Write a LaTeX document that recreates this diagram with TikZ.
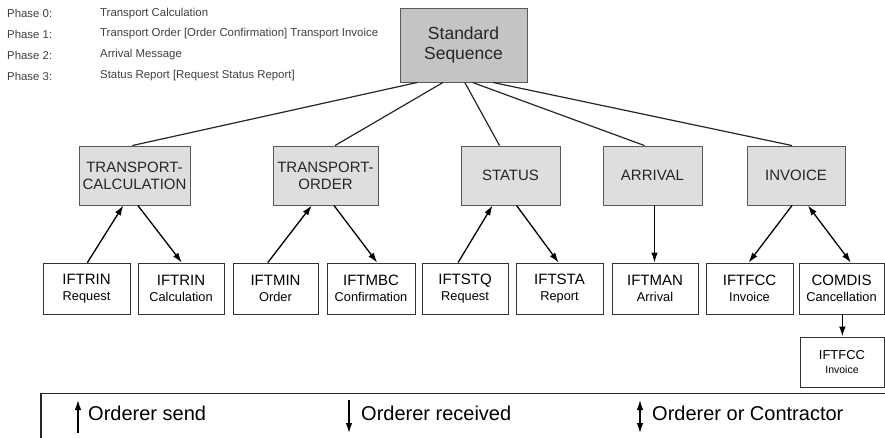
\documentclass[tikz,border=0pt]{standalone}
\usepackage{fontspec}
\setmainfont{Liberation Sans}
\usetikzlibrary{arrows.meta,calc}

\begin{document}
\begin{tikzpicture}[x=1pt,y=-1pt,
  tip/.tip={Latex[length=10pt,width=6.5pt]},
  topbox/.style={draw=black!65, line width=0.9pt, fill=black!23, align=center, inner sep=0pt,
    text=black!85, font=\fontsize{17.5}{20}\selectfont},
  groupbox/.style={draw=black!65, line width=0.9pt, fill=black!13, align=center, inner sep=0pt,
    minimum height=59pt, text=black!85, font=\fontsize{15}{17}\selectfont},
  msgbox/.style={draw=black!80, line width=0.8pt, fill=white, align=center, inner sep=0pt,
    minimum height=51pt, font=\fontsize{12.8}{16}\selectfont},
  smallmsg/.style={msgbox, minimum height=50pt, font=\fontsize{10.5}{14}\selectfont},
  tree/.style={line width=1.2pt, draw=black!85},
  flow/.style={line width=1.3pt, draw=black, -tip},
  both/.style={line width=1.3pt, draw=black, tip-tip},
  phase/.style={anchor=west, inner sep=0pt, text=black!75, font=\fontsize{11.4}{13}\selectfont},
  legend/.style={anchor=west, inner sep=0pt, font=\fontsize{20}{22}\selectfont}
]
\useasboundingbox (0,0) rectangle (885,438);

% phase list
\node[phase] (p0) at (7,13.3) {Phase 0:};
\node[phase] (p1) at (7,34) {Phase 1:};
\node[phase] (p2) at (7,55) {Phase 2:};
\node[phase] (p3) at (7,76) {Phase 3:};
\node[phase] (t0) at (100,13.3) {Transport Calculation};
\node[phase] (t1) at (100,34) {Transport Order [Order Confirmation] Transport Invoice};
\node[phase] (t2) at (100,55) {Arrival Message};
\node[phase] (t3) at (100,76) {Status Report [Request Status Report]};

% root
\node[topbox, minimum width=127pt, minimum height=74pt] (ss) at (463.5,45) {Standard\\Sequence};

% groups
\node[groupbox, minimum width=111pt] (tc) at (134.5,175.5) {TRANSPORT-\\CALCULATION};
\node[groupbox, minimum width=105pt] (to) at (325.5,175.5) {TRANSPORT-\\ORDER};
\node[groupbox, minimum width=99pt]  (st) at (510.5,175.5) {STATUS};
\node[groupbox, minimum width=99pt]  (ar) at (652.5,175.5) {ARRIVAL};
\node[groupbox, minimum width=98pt]  (in) at (796,175.5) {INVOICE};

% messages
\newcommand\msgname[1]{{\fontsize{15}{16}\selectfont #1}}
\newcommand\smallname[1]{{\fontsize{13}{14}\selectfont #1}}
\node[msgbox, minimum width=87pt] (r1) at (86.5,288.5) {\msgname{IFTRIN}\\Request};
\node[msgbox, minimum width=86pt] (r2) at (181,288.5) {\msgname{IFTRIN}\\Calculation};
\node[msgbox, minimum width=85pt] (m1) at (275.5,288.5) {\msgname{IFTMIN}\\Order};
\node[msgbox, minimum width=88pt] (m2) at (371,288.5) {\msgname{IFTMBC}\\Confirmation};
\node[msgbox, minimum width=86pt] (s1) at (465,288.5) {\msgname{IFTSTQ}\\Request};
\node[msgbox, minimum width=87pt] (s2) at (559.5,288.5) {\msgname{IFTSTA}\\Report};
\node[msgbox, minimum width=86pt] (am) at (655,288.5) {\msgname{IFTMAN}\\Arrival};
\node[msgbox, minimum width=87pt] (f1) at (749.5,288.5) {\msgname{IFTFCC}\\Invoice};
\node[msgbox, minimum width=85pt] (cd) at (841.5,288.5) {\msgname{COMDIS}\\Cancellation};
\node[smallmsg, minimum width=84pt] (f2) at (842,362) {\smallname{IFTFCC}\\Invoice};

% attachment points along box sides
\coordinate (ss1) at ($(ss.south west)!0.14!(ss.south east)$);
\coordinate (ss2) at ($(ss.south west)!0.34!(ss.south east)$);
\coordinate (ss3) at ($(ss.south west)!0.51!(ss.south east)$);
\coordinate (ss4) at ($(ss.south west)!0.57!(ss.south east)$);
\coordinate (ss5) at ($(ss.south west)!0.73!(ss.south east)$);
\coordinate (tcN) at ($(tc.north west)!0.48!(tc.north east)$);
\coordinate (toN) at ($(to.north west)!0.59!(to.north east)$);
\coordinate (stN) at ($(st.north west)!0.39!(st.north east)$);
\coordinate (arN) at ($(ar.north west)!0.42!(ar.north east)$);
\coordinate (inN) at ($(in.north west)!0.46!(in.north east)$);

\coordinate (tcA) at ($(tc.south west)!0.40!(tc.south east)$);
\coordinate (tcB) at ($(tc.south west)!0.53!(tc.south east)$);
\coordinate (toA) at ($(to.south west)!0.37!(to.south east)$);
\coordinate (toB) at ($(to.south west)!0.58!(to.south east)$);
\coordinate (stA) at ($(st.south west)!0.32!(st.south east)$);
\coordinate (stB) at ($(st.south west)!0.56!(st.south east)$);
\coordinate (arS) at ($(ar.south west)!0.52!(ar.south east)$);
\coordinate (inA) at ($(in.south west)!0.46!(in.south east)$);
\coordinate (inB) at ($(in.south west)!0.62!(in.south east)$);

\coordinate (r1N) at ($(r1.north west)!0.51!(r1.north east)$);
\coordinate (r2N) at ($(r2.north west)!0.51!(r2.north east)$);
\coordinate (m1N) at ($(m1.north west)!0.41!(m1.north east)$);
\coordinate (m2N) at ($(m2.north west)!0.57!(m2.north east)$);
\coordinate (s1N) at ($(s1.north west)!0.42!(s1.north east)$);
\coordinate (s2N) at ($(s2.north west)!0.49!(s2.north east)$);
\coordinate (amN) at (arS |- am.north);
\coordinate (f1N) at ($(f1.north west)!0.49!(f1.north east)$);
\coordinate (cdN) at ($(cd.north west)!0.61!(cd.north east)$);
\coordinate (cdS) at ($(cd.south west)!0.51!(cd.south east)$);
\coordinate (f2N) at (cdS |- f2.north);

% tree lines
\draw[tree] (ss1) -- (tcN);
\draw[tree] (ss2) -- (toN);
\draw[tree] (ss3) -- (stN);
\draw[tree] (ss4) -- (arN);
\draw[tree] (ss5) -- (inN);

% message flows
\draw[flow] (r1N) -- (tcA);
\draw[flow] (tcB) -- (r2N);
\draw[flow] (m1N) -- (toA);
\draw[flow] (toB) -- (m2N);
\draw[flow] (s1N) -- (stA);
\draw[flow] (stB) -- (s2N);
\draw[flow] (arS) -- (amN);
\draw[flow] (inA) -- (f1N);
\draw[both] (inB) -- (cdN);
\draw[flow] (cdS) -- (f2N);

% legend
\draw[line width=1.2pt, black!85] (41,445) -- (41,393.5) -- (890,393.5);
\coordinate (l1a) at (78,433);   \coordinate (l1b) at (78,400);
\coordinate (l2a) at (349,400);  \coordinate (l2b) at (349,433);
\coordinate (l3a) at (640,400);  \coordinate (l3b) at (640,433);
\draw[flow] (l1a) -- (l1b);
\draw[flow] (l2a) -- (l2b);
\draw[both] (l3a) -- (l3b);
\node[legend] (lg1) at (88,413) {Orderer send};
\node[legend] (lg2) at (361,413) {Orderer received};
\node[legend] (lg3) at (652,413) {Orderer or Contractor};
\end{tikzpicture}
\end{document}
